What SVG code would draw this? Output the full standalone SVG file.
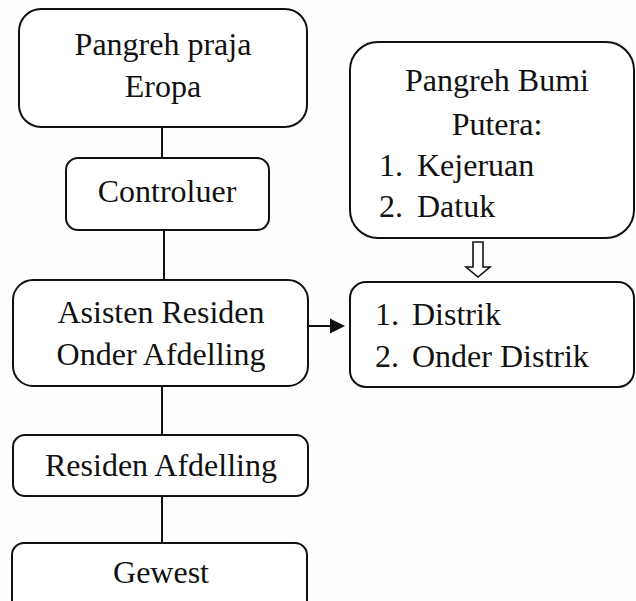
<svg xmlns="http://www.w3.org/2000/svg" width="636" height="601" viewBox="0 0 636 601">
<style>
.box{fill:#fff;stroke:#111;stroke-width:2}
.ln{stroke:#111;stroke-width:2;fill:none}
</style>
<rect width="636" height="601" fill="#fefefd"/>
<g id="connectors">
<line class="ln" x1="162" y1="127" x2="162" y2="158"/>
<line class="ln" x1="164" y1="230" x2="164" y2="280"/>
<line class="ln" x1="162" y1="386" x2="162" y2="435"/>
<line class="ln" x1="162" y1="496" x2="162" y2="543"/>
<path d="M307,326 L332,326" class="ln"/>
<path d="M330,318.5 L345,326 L330,333.5 Z" fill="#111"/>
<path d="M473,242 L483,242 L483,267 L490,267 L478,277 L466,267 L473,267 Z" fill="#fff" stroke="#111" stroke-width="1.6"/>
</g>
<g id="n_eropa">
<rect class="box" x="19" y="9" width="288" height="118" rx="22"/>
<text font-family="Liberation Serif" font-size="32" fill="#111" text-anchor="middle" x="163" y="55">Pangreh praja</text>
<text font-family="Liberation Serif" font-size="32" fill="#111" text-anchor="middle" x="163" y="97">Eropa</text>
</g>
<g id="n_controluer">
<rect class="box" x="66" y="158" width="203" height="72" rx="12"/>
<text font-family="Liberation Serif" font-size="32" fill="#111" text-anchor="middle" x="167" y="202">Controluer</text>
</g>
<g id="n_asisten">
<rect class="box" x="13" y="280" width="295" height="106" rx="20"/>
<text font-family="Liberation Serif" font-size="32" fill="#111" text-anchor="middle" x="161" y="323">Asisten Residen</text>
<text font-family="Liberation Serif" font-size="32" fill="#111" text-anchor="middle" x="161" y="365">Onder Afdelling</text>
</g>
<g id="n_residen">
<rect class="box" x="13" y="435" width="295" height="61" rx="12"/>
<text font-family="Liberation Serif" font-size="32" fill="#111" text-anchor="middle" x="161" y="476">Residen Afdelling</text>
</g>
<g id="n_gewest">
<rect class="box" x="12" y="543" width="295" height="70" rx="12"/>
<text font-family="Liberation Serif" font-size="32" fill="#111" text-anchor="middle" x="161" y="583">Gewest</text>
</g>
<g id="n_bumi">
<rect class="box" x="350" y="42" width="284" height="196" rx="28"/>
<text font-family="Liberation Serif" font-size="32" fill="#111" text-anchor="middle" x="497" y="91">Pangreh Bumi</text>
<text font-family="Liberation Serif" font-size="32" fill="#111" text-anchor="middle" x="497" y="135">Putera:</text>
<text font-family="Liberation Serif" font-size="32" fill="#111" x="379" y="176">1.</text>
<text font-family="Liberation Serif" font-size="32" fill="#111" x="417" y="176">Kejeruan</text>
<text font-family="Liberation Serif" font-size="32" fill="#111" x="379" y="217">2.</text>
<text font-family="Liberation Serif" font-size="32" fill="#111" x="417" y="217">Datuk</text>
</g>
<g id="n_distrik">
<rect class="box" x="350" y="282" width="284" height="105" rx="16"/>
<text font-family="Liberation Serif" font-size="32" fill="#111" x="375" y="325">1.</text>
<text font-family="Liberation Serif" font-size="32" fill="#111" x="412" y="325">Distrik</text>
<text font-family="Liberation Serif" font-size="32" fill="#111" x="375" y="367">2.</text>
<text font-family="Liberation Serif" font-size="32" fill="#111" x="412" y="367">Onder Distrik</text>
</g>
</svg>
